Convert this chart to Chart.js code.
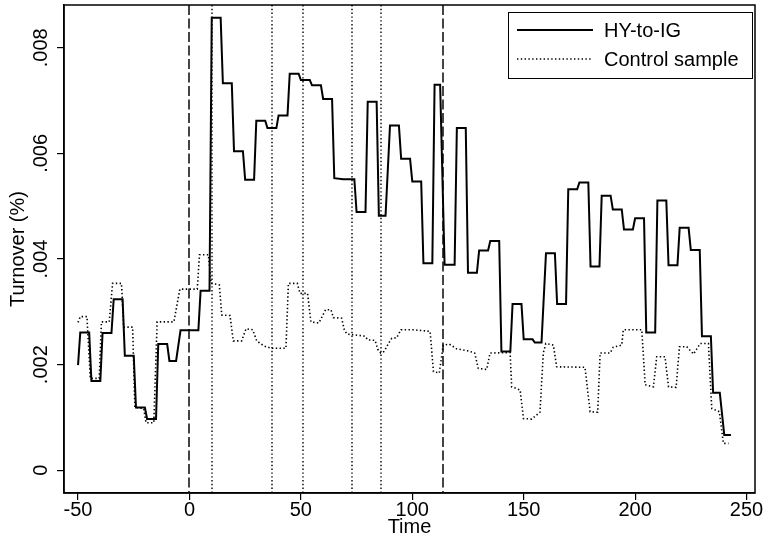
<!DOCTYPE html>
<html>
<head>
<meta charset="utf-8">
<script src="https://cdn.jsdelivr.net/npm/chart.js@4"></script>
<style>
  html, body { margin: 0; padding: 0; background: #fff; }
  canvas { display: block; }
</style>
</head>
<body>
<canvas id="c" width="764" height="539"></canvas>
<script>
// ---- data ----
const hyTime = [-50,-49,-45,-44,-40,-39,-35,-34,-30,-29,-25,-24,-20,-19,-15,-14,-10,-9,-6,-4,4,5,9,10,14,15,19,20,24,25,29,30,34,35,39,40,44,45,49,50,54,55,59,60,64,65,69,74,75,79,80,84,85,88,90,94,95,99,100,104,105,109,110,112.5,114.5,119,120,124,125,129,130,134,135,139,140,144,145,149,150,154,155,158,160,164,165,169,170,174,175,179,180,184,185,189,190,194,195,199,200,204,205,209,210,214,215,219,220,224,225,229,230,234,235,238,240,243];
const hyTurnover = [0.00199,0.00261,0.00261,0.00169,0.00169,0.00260,0.00260,0.00324,0.00324,0.00217,0.00217,0.00119,0.00119,0.00097,0.00097,0.00239,0.00239,0.00207,0.00207,0.00265,0.00265,0.00340,0.00340,0.00857,0.00857,0.00733,0.00733,0.00604,0.00604,0.00550,0.00550,0.00662,0.00662,0.00648,0.00648,0.00672,0.00672,0.00751,0.00751,0.00739,0.00739,0.00729,0.00729,0.00703,0.00703,0.00553,0.00551,0.00551,0.00489,0.00489,0.00698,0.00698,0.00482,0.00482,0.00653,0.00653,0.00590,0.00590,0.00547,0.00547,0.00392,0.00392,0.00730,0.00730,0.00389,0.00389,0.00648,0.00648,0.00374,0.00374,0.00416,0.00416,0.00434,0.00434,0.00225,0.00225,0.00315,0.00315,0.00248,0.00248,0.00242,0.00242,0.00411,0.00411,0.00315,0.00315,0.00532,0.00532,0.00545,0.00545,0.00386,0.00386,0.00520,0.00520,0.00494,0.00494,0.00456,0.00456,0.00477,0.00477,0.00261,0.00261,0.00511,0.00511,0.00388,0.00388,0.00459,0.00459,0.00417,0.00417,0.00254,0.00254,0.00147,0.00147,0.00067,0.00067];

const ctrlTime = [-50,-49,-46,-44.5,-40.5,-39.5,-36,-34.5,-30.5,-29.5,-25.5,-24.5,-20.5,-19.5,-16,-14.5,-7,-4.3,3.5,4.5,8.5,9.7,13.4,14.5,18.2,19.7,23.4,25.4,28.4,30.2,33.6,36.9,43.3,44.4,48.4,49.6,53,54.5,58.1,61.1,63.5,64.6,68.3,69.5,70.6,78.8,80,83.3,84.5,85.8,87.4,89.3,90.8,93,94.9,100.5,108,109.5,112.1,113.9,116.6,119.9,125.2,128,129.6,133.4,134.9,143.9,144.6,148.4,149.9,153.6,157.3,158.8,159.9,163.3,164.8,177.5,179.8,183.2,184.3,188.8,190.2,194,194.7,203,204.5,208.2,209.7,213.4,215,218.4,219.9,223.2,226.2,229.2,232.9,234.4,237.8,239.6,241.9];
const ctrlTurnover = [0.00280,0.00291,0.00291,0.00174,0.00174,0.00281,0.00281,0.00354,0.00354,0.00271,0.00271,0.00119,0.00117,0.00090,0.00090,0.00281,0.00281,0.00343,0.00343,0.00408,0.00408,0.00354,0.00351,0.00294,0.00293,0.00245,0.00245,0.00268,0.00266,0.00245,0.00235,0.00231,0.00231,0.00354,0.00354,0.00335,0.00335,0.00281,0.00279,0.00304,0.00304,0.00289,0.00288,0.00266,0.00258,0.00254,0.00247,0.00246,0.00229,0.00222,0.00225,0.00240,0.00250,0.00251,0.00266,0.00266,0.00263,0.00187,0.00184,0.00237,0.00239,0.00230,0.00226,0.00222,0.00193,0.00191,0.00222,0.00223,0.00158,0.00152,0.00098,0.00097,0.00110,0.00222,0.00240,0.00237,0.00196,0.00195,0.00111,0.00110,0.00222,0.00222,0.00233,0.00237,0.00266,0.00266,0.00162,0.00158,0.00215,0.00215,0.00158,0.00157,0.00234,0.00234,0.00220,0.00240,0.00240,0.00117,0.00111,0.00051,0.00051];

const seriesNames = ['HY-to-IG', 'Control sample'];
const dashedEvents = [0, 114];
const dottedEvents = [10, 37, 51, 73, 86];
const xTicks = [-50, 0, 50, 100, 150, 200, 250];
const yTicks = [0, 0.002, 0.004, 0.006, 0.008];
const yTickLabels = ['0', '.002', '.004', '.006', '.008'];
const xTitle = 'Time';
const yTitle = 'Turnover (%)';

// ---- chart ----
const FONT = 'Liberation Sans, Arial, Helvetica, sans-serif';
Chart.defaults.font.family = FONT;
Chart.defaults.color = '#000';

const toPts = (xs, ys) => xs.map((x, i) => ({ x: x, y: ys[i] }));

const decor = {
  id: 'decor',
  beforeDatasetsDraw(chart) {
    const { ctx, chartArea: a, scales: { x } } = chart;
    ctx.save();
    ctx.beginPath(); ctx.rect(a.left, a.top, a.right - a.left, a.bottom - a.top); ctx.clip();
    ctx.strokeStyle = '#000';
    ctx.lineWidth = 1.4;
    ctx.setLineDash([1.4, 2.4]);
    dottedEvents.forEach(v => {
      const px = Math.round(x.getPixelForValue(v));
      ctx.beginPath(); ctx.moveTo(px, a.top); ctx.lineTo(px, a.bottom); ctx.stroke();
    });
    ctx.strokeStyle = '#444';
    ctx.lineWidth = 2;
    ctx.setLineDash([10, 3.5]);
    dashedEvents.forEach(v => {
      const px = Math.round(x.getPixelForValue(v));
      ctx.beginPath(); ctx.moveTo(px, a.top); ctx.lineTo(px, a.bottom); ctx.stroke();
    });
    ctx.restore();
  },
  afterDraw(chart) {
    const { ctx, chartArea: a, scales: { y } } = chart;
    ctx.save();
    // frame
    ctx.strokeStyle = '#000';
    ctx.lineWidth = 1.5;
    ctx.strokeRect(a.left, a.top, a.right - a.left, a.bottom - a.top);
    // y tick labels rotated
    ctx.fillStyle = '#000';
    ctx.font = '20px ' + FONT;
    ctx.textAlign = 'center';
    ctx.textBaseline = 'middle';
    yTicks.forEach((v, i) => {
      const py = y.getPixelForValue(v);
      ctx.save();
      ctx.translate(41, py);
      ctx.rotate(-Math.PI / 2);
      ctx.fillText(yTickLabels[i], 0, 0);
      ctx.restore();
    });
    // legend
    const bx = 508, by = 12, bw = 244, bh = 66;
    ctx.fillStyle = '#fff';
    ctx.fillRect(bx, by, bw, bh);
    ctx.strokeStyle = '#000';
    ctx.lineWidth = 1;
    ctx.strokeRect(bx + 0.5, by + 0.5, bw, bh);
    const rows = [30, 59];
    chart.data.datasets.forEach((ds, i) => {
      ctx.strokeStyle = ds.borderColor;
      ctx.lineWidth = ds.borderWidth;
      ctx.setLineDash(ds.borderDash || []);
      ctx.beginPath(); ctx.moveTo(517, rows[i]); ctx.lineTo(593, rows[i]); ctx.stroke();
      ctx.setLineDash([]);
      ctx.fillStyle = '#000';
      ctx.textAlign = 'left';
      ctx.fillText(ds.label, 604, rows[i] + 1);
    });
    ctx.restore();
  }
};

new Chart(document.getElementById('c'), {
  type: 'line',
  data: {
    datasets: [
      { label: seriesNames[0], data: toPts(hyTime, hyTurnover), borderColor: '#000', borderWidth: 2, pointRadius: 0, tension: 0, fill: false },
      { label: seriesNames[1], data: toPts(ctrlTime, ctrlTurnover), borderColor: '#000', borderWidth: 1.6, borderDash: [1.4, 2.4], pointRadius: 0, tension: 0, fill: false }
    ]
  },
  options: {
    responsive: false,
    animation: false,
    devicePixelRatio: 1,
    layout: { padding: { top: 5, right: 9, left: 0, bottom: 0 } },
    plugins: { legend: { display: false }, tooltip: { enabled: false } },
    scales: {
      x: {
        type: 'linear',
        min: -56.3, max: 253.8,
        afterBuildTicks: s => { s.ticks = xTicks.map(v => ({ value: v })); },
        afterFit: s => { s.height = 46; },
        ticks: { font: { size: 20 }, padding: -2, maxRotation: 0, autoSkip: false, callback: v => String(v) },
        grid: { drawOnChartArea: false, drawTicks: true, tickLength: 7, color: '#000', lineWidth: 1.2 },
        border: { display: true, color: '#000', width: 1.5 },
        title: { display: true, text: xTitle, font: { size: 20 }, padding: { top: 0, bottom: 0 } }
      },
      y: {
        type: 'linear',
        min: -0.00043, max: 0.00881,
        afterBuildTicks: s => { s.ticks = yTicks.map(v => ({ value: v })); },
        afterFit: s => { s.width = 64; },
        ticks: { display: false },
        grid: { drawOnChartArea: false, drawTicks: true, tickLength: 7, color: '#000', lineWidth: 1.2 },
        border: { display: true, color: '#000', width: 1.5 },
        title: { display: true, text: yTitle, font: { size: 20 }, padding: { top: 6, bottom: 0 } }
      }
    }
  },
  plugins: [decor]
});
</script>
</body>
</html>
